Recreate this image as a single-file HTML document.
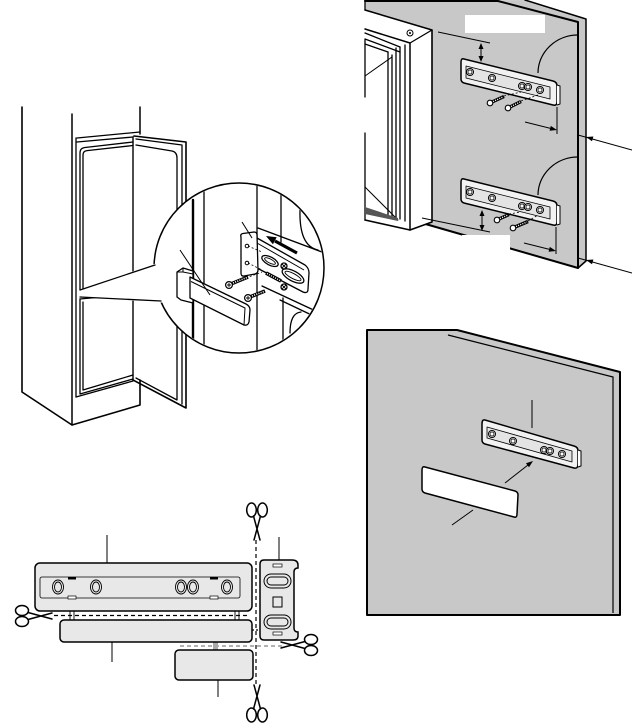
<!DOCTYPE html>
<html><head><meta charset="utf-8"><style>
html,body{margin:0;padding:0;background:#fff;}
svg{display:block;}
</style></head><body>
<svg width="632" height="723" viewBox="0 0 632 723" xmlns="http://www.w3.org/2000/svg">
<defs>
  <clipPath id="circ"><circle cx="239" cy="268" r="84"/></clipPath>
</defs>
<rect width="632" height="723" fill="#fff"/>

<!-- ================= TOP-LEFT: FRIDGE ================= -->
<g fill="none" stroke="#000" stroke-width="1.3" stroke-linejoin="round" stroke-linecap="round">
  <path d="M22,107 V392 L72,425 L140,405 V380" stroke-width="1.6"/>
  <path d="M72,114 V425" stroke-width="1.5"/>
  <path d="M140,107 V134" stroke-width="1.5"/>
  <path d="M77,138 L140,132"/>
  <path d="M77,142 L133,137"/>
  <path d="M76,138 V397"/>
  <path d="M80,292 V153 Q80,148 85,147.5 L133,142"/>
  <path d="M83,290 V155 Q83,151 87,150.6 L133,145.5"/>
  <path d="M80,299 L133,294"/>
  <path d="M80,299 V394 L133,379"/>
  <path d="M83,302 V390 L133,375"/>
  <path d="M76,397 L133,381"/>
  <path d="M133,137 V380" stroke-width="1.4"/>
  <path d="M134,136 L186,142 V408 L133,380" stroke-width="1.6"/>
  <path d="M136,139 L182,145 V404"/>
  <path d="M136,145 L172,151 Q177,152 177,158 V400 L136,378"/>
</g>

<!-- circle callout -->
<circle cx="239" cy="268" r="85" fill="#fff" stroke="#000" stroke-width="1.5"/>
<polygon points="79,290 160,262 168,303 79,297" fill="#fff"/>
<g fill="none" stroke="#000" stroke-width="1.3" stroke-linecap="round">
  <path d="M80,290 L155,265"/>
  <path d="M80,297 L161,301"/>
</g>

<g clip-path="url(#circ)">
<g fill="none" stroke="#000" stroke-width="1.3" stroke-linecap="round" stroke-linejoin="round">
  <path d="M193,200 V340" stroke-width="2.4"/>
  <path d="M204,190 V345"/>
  <path d="M257,180 V350"/>
  <path d="M281,195 V242"/>
  <path d="M283,298 V340"/>
  <path d="M300,210 Q299,246 318,250"/>
  <path d="M290,333 Q290,313 301,312"/>
  <path d="M258,228 L330,255"/>
  <path d="M262,286 L320,313"/>
  <path d="M280,300 L320,319"/>
</g>

<g stroke="#000" stroke-width="1.3" stroke-linejoin="round">
  <path d="M257,238 L305,265 Q309,268 309,273 L308,289 Q308,294 303,292 L257,268 Z" fill="#fff"/>
  <path d="M257,243 L304,270" fill="none" stroke-width="1"/>
  <ellipse cx="270" cy="261" rx="9" ry="4" transform="rotate(28 270 261)" fill="#fff"/>
  <ellipse cx="270" cy="261" rx="6" ry="2" transform="rotate(28 270 261)" fill="none" stroke-width="0.9"/>
  <ellipse cx="293" cy="276" rx="12" ry="5" transform="rotate(28 293 276)" fill="#fff"/>
  <ellipse cx="293" cy="276" rx="9" ry="2.5" transform="rotate(28 293 276)" fill="none" stroke-width="0.9"/>
  <path d="M241,237 Q240,234 243,233.5 L254,232 Q257,232 257,235 L258,270 Q258,273 255,274 L244,276 Q241,276.5 241,273 Z" fill="#fff"/>
  <circle cx="247" cy="246" r="1.8" fill="#fff" stroke-width="1"/>
  <circle cx="247" cy="263" r="1.8" fill="#fff" stroke-width="1"/>
  <circle cx="284" cy="266" r="3" fill="#fff"/>
  <path d="M282,264 L286,268 M286,264 L282,268" stroke-width="0.9"/>
  <circle cx="284" cy="287" r="3" fill="#fff"/>
  <path d="M282,285 L286,289 M286,285 L282,289" stroke-width="0.9"/>
</g>
<g fill="none" stroke="#000" stroke-width="0.8" stroke-dasharray="2,2">
  <path d="M248,246 L262,252"/>
  <path d="M248,263 L262,270"/>
  <path d="M246,278 L262,272"/>
</g>
<g stroke-linecap="butt">
  <path d="M232,283.5 L248,277" stroke="#000" stroke-width="3.6"/>
  <path d="M233,283 L247,277.5" stroke="#fff" stroke-width="1.6" stroke-dasharray="1,1.3"/>
  <path d="M251,296.5 L265,291" stroke="#000" stroke-width="3.6"/>
  <path d="M252,296 L264,291.5" stroke="#fff" stroke-width="1.6" stroke-dasharray="1,1.3"/>
  <path d="M266,273 L281,281" stroke="#000" stroke-width="3.6"/>
  <path d="M267,273.5 L280,280.5" stroke="#fff" stroke-width="1.4" stroke-dasharray="1,1.3"/>
  <circle cx="229" cy="285" r="3.4" fill="#fff" stroke="#000" stroke-width="1.2"/>
  <path d="M227,285 H231 M229,283 V287" stroke="#000" stroke-width="0.9"/>
  <circle cx="248" cy="298" r="3.4" fill="#fff" stroke="#000" stroke-width="1.2"/>
  <path d="M246,298 H250 M248,296 V300" stroke="#000" stroke-width="0.9"/>
</g>
<path d="M297,253 L275,241" stroke="#000" stroke-width="3.2"/>
<polygon points="266,236 276.7,237.3 272.9,244.3" fill="#000"/>
<g stroke="#000" stroke-width="1.3" stroke-linejoin="round" fill="#fff">
  <path d="M177,272 L183,268 L193,271 L193,303 L181,300 L177,297 Z"/>
  <path d="M183,268 L183,272 L177,272 M183,272 L193,274" fill="none" stroke-width="1"/>
  <path d="M190,277 L246,304 Q250,306 250,310 L249,322 Q248,326 244,325 L190,298 Z"/>
  <path d="M191,281.5 L245,308 L244,325" fill="none" stroke-width="1"/>
</g>
<g stroke="#000" stroke-width="1" fill="none">
  <path d="M180,250 L210,295"/>
  <path d="M242,222 L252,238"/>
</g>
</g>

<!-- ================= TOP-RIGHT: PANEL WITH BRACKETS ================= -->
<polygon points="365,1 525,0 586,19 586,261 578,268 422,223 432,220 432,30 365,10" fill="#c8c8c8"/>
<g fill="none" stroke="#000" stroke-linejoin="round" stroke-linecap="round">
  <path d="M365,1 H498 L578,22 V268" stroke-width="2"/>
  <path d="M525,0 L586,19 V261 L578,268" stroke-width="1.5"/>
  <path d="M422,223 L578,268" stroke-width="2"/>
  <path d="M365,0 V10" stroke-width="1.3"/>
</g>
<polygon points="355,8 365,10 432,30 432,222 410,230 365,220 355,220" fill="#fff"/>
<g fill="none" stroke="#000" stroke-width="1.3" stroke-linejoin="round" stroke-linecap="round">
  <path d="M365,10 L432,30 V222 L410,230 L365,220" stroke-width="1.6"/>
  <path d="M365,29 L410,43 V230" stroke-width="1.5"/>
  <path d="M410,43 L432,30"/>
  <path d="M365,40 V97 M365,133 V220"/>
  <path d="M365,33 L400,47"/>
  <path d="M365,39 L400,52"/>
  <path d="M365,44 L388,52"/>
  <path d="M388,52 V216"/>
  <path d="M392,55 V217"/>
  <path d="M396,48 V218"/>
  <path d="M400,47 V219"/>
  <path d="M405,45 V221"/>
  <path d="M365,76 L392,57" stroke-width="1"/>
  <path d="M365,187 L398,220" stroke-width="1"/>
  <circle cx="410" cy="33" r="3" stroke-width="1"/>
  <circle cx="410" cy="33" r="1" fill="#000" stroke="none"/>
</g>
<polygon points="365,207 398,218 398,221 365,214" fill="#555"/>
<rect x="465" y="15" width="80" height="18" fill="#fff"/>

<g fill="none" stroke="#000" stroke-width="1.2">
  <path d="M538,73 A40,38 0 0 1 578,35"/>
  <path d="M538,195 A40,38 0 0 1 578,157"/>
</g>

<g stroke="#000" stroke-linejoin="round">
  <path d="M464,59 L553,81 Q557,82 557,86 L557,102 Q557,106 553,105 L464,83 Q461,82 461,79 L461,62 Q461,58 464,59 Z" fill="#f2f2f2" stroke-width="1.5"/>
  <path d="M557,85 L560,86 L560,104 L557,105" fill="#fff" stroke-width="1"/>
  <path d="M466,66 L550,87 L550,99 L466,78 Z" fill="#e4e4e4" stroke-width="0.8"/>
  <g fill="#fff" stroke-width="1">
    <circle cx="470" cy="72" r="3.5"/><circle cx="492" cy="78" r="3.5"/>
    <circle cx="522" cy="86" r="3.5"/><circle cx="528" cy="87" r="3.5"/><circle cx="540" cy="90" r="3.5"/>
  </g>
  <g fill="none" stroke-width="0.8">
    <circle cx="470" cy="72" r="2"/><circle cx="492" cy="78" r="2"/>
    <circle cx="522" cy="86" r="2"/><circle cx="528" cy="87" r="2"/><circle cx="540" cy="90" r="2"/>
  </g>
</g>
<g stroke="#000" stroke-linejoin="round" transform="translate(0,120)">
  <path d="M464,59 L553,81 Q557,82 557,86 L557,102 Q557,106 553,105 L464,83 Q461,82 461,79 L461,62 Q461,58 464,59 Z" fill="#f2f2f2" stroke-width="1.5"/>
  <path d="M557,85 L560,86 L560,104 L557,105" fill="#fff" stroke-width="1"/>
  <path d="M466,66 L550,87 L550,99 L466,78 Z" fill="#e4e4e4" stroke-width="0.8"/>
  <g fill="#fff" stroke-width="1">
    <circle cx="470" cy="72" r="3.5"/><circle cx="492" cy="78" r="3.5"/>
    <circle cx="522" cy="86" r="3.5"/><circle cx="528" cy="87" r="3.5"/><circle cx="540" cy="90" r="3.5"/>
  </g>
  <g fill="none" stroke-width="0.8">
    <circle cx="470" cy="72" r="2"/><circle cx="492" cy="78" r="2"/>
    <circle cx="522" cy="86" r="2"/><circle cx="528" cy="87" r="2"/><circle cx="540" cy="90" r="2"/>
  </g>
</g>

<!-- screws top-right -->
<g stroke-linecap="butt">
  <path d="M492,102 L504,96.5" stroke="#000" stroke-width="3.4"/>
  <path d="M493,101.5 L503,97" stroke="#fff" stroke-width="1.4" stroke-dasharray="1,1.3"/>
  <path d="M510,107 L521,101.5" stroke="#000" stroke-width="3.4"/>
  <path d="M511,106.5 L520,102" stroke="#fff" stroke-width="1.4" stroke-dasharray="1,1.3"/>
  <path d="M499,219 L509,214.5" stroke="#000" stroke-width="3.4"/>
  <path d="M500,218.5 L508,215" stroke="#fff" stroke-width="1.4" stroke-dasharray="1,1.3"/>
  <path d="M515,227 L528,221.5" stroke="#000" stroke-width="3.4"/>
  <path d="M516,226.5 L527,222" stroke="#fff" stroke-width="1.4" stroke-dasharray="1,1.3"/>
  <g fill="#fff" stroke="#000" stroke-width="1.1">
    <circle cx="490" cy="103" r="2.8"/><circle cx="508" cy="108" r="2.8"/>
    <circle cx="497" cy="220" r="2.8"/><circle cx="513" cy="228" r="2.8"/>
  </g>
</g>
<g fill="none" stroke="#000" stroke-width="0.8" stroke-dasharray="2,2">
  <path d="M504,96 L521,92"/><path d="M521,101 L538,95"/>
  <path d="M509,214 L521,212"/><path d="M528,221 L538,215"/>
</g>

<g fill="none" stroke="#000" stroke-width="1">
  <path d="M438,32 L490,43"/>
  <path d="M481,47 V58"/>
  <path d="M557,107 V134"/>
  <path d="M525,122 L551,128.5"/>
  <path d="M578,135 L632,150"/>
  <path d="M422,218 L490,232"/>
  <path d="M482,214 V227"/>
  <path d="M556,227 V254"/>
  <path d="M524,243 L550,249.5"/>
  <path d="M578,258 L632,273"/>
</g>
<g fill="#000">
  <polygon points="481,43 478.5,49 483.5,49"/>
  <polygon points="481,62 478.5,56 483.5,56"/>
  <polygon points="482,210 479.5,216 484.5,216"/>
  <polygon points="482,231 479.5,225 484.5,225"/>
  <polygon points="557,130 549.6,130.7 550.8,125.9"/>
  <polygon points="586,137 592,141.3 593.4,136.5"/>
  <polygon points="556,251 548.6,251.7 549.8,246.9"/>
  <polygon points="586,260 592,264.3 593.4,259.5"/>
</g>
<rect x="462" y="235" width="48" height="45" fill="#fff"/>

<!-- ================= MIDDLE-RIGHT PANEL ================= -->
<polygon points="367,330 457,330 620,372 620,615 367,615" fill="#c8c8c8" stroke="#000" stroke-width="2" stroke-linejoin="round"/>
<path d="M448,335 L613,377 V613" fill="none" stroke="#000" stroke-width="1.2"/>
<g stroke="#000" stroke-linejoin="round">
  <path d="M485,420 L574,446 Q578,447 578,451 L578,464 Q578,469 574,468 L485,444 Q482,443 482,440 L482,424 Q482,419 485,420 Z" fill="#f2f2f2" stroke-width="1.5"/>
  <path d="M578,450 L581,451 L581,466 L578,467" fill="#fff" stroke-width="1"/>
  <path d="M487,427 L572,451 L572,462 L487,438 Z" fill="#e4e4e4" stroke-width="0.8"/>
  <g fill="#fff" stroke-width="1">
    <circle cx="492" cy="434" r="3.5"/><circle cx="513" cy="441" r="3.5"/>
    <circle cx="544" cy="450" r="3.5"/><circle cx="550" cy="451" r="3.5"/><circle cx="562" cy="454" r="3.5"/>
  </g>
  <g fill="none" stroke-width="0.8">
    <circle cx="492" cy="434" r="2"/><circle cx="513" cy="441" r="2"/>
    <circle cx="544" cy="450" r="2"/><circle cx="550" cy="451" r="2"/><circle cx="562" cy="454" r="2"/>
  </g>
</g>
<path d="M425,467 L515,491 Q518,492 518,495 L517,514 Q517,518 514,517 L425,493 Q422,492 422,489 L422,470 Q422,466 425,467 Z" fill="#fff" stroke="#000" stroke-width="1.5"/>
<g fill="none" stroke="#000" stroke-width="1">
  <path d="M532,400 V428"/>
  <path d="M452,525 L473,510"/>
  <path d="M505,483 L528,465"/>
</g>
<polygon points="533,461 529,467.3 526,463.3" fill="#000"/>

<!-- ================= BOTTOM-LEFT: CUTTING ================= -->
<g fill="none" stroke-width="1.2">
  <path d="M256,540 V684" stroke="#000" stroke-dasharray="4,3"/>
  <path d="M54,615.5 H249" stroke="#000" stroke-dasharray="4,3"/>
  <path d="M180,646 H283" stroke="#999" stroke-width="1.6" stroke-dasharray="4,3"/>
  <path d="M252,630 H262" stroke="#000" stroke-dasharray="2,2"/>
</g>
<g stroke="#000" stroke-width="0.9" fill="none">
  <path d="M70,611 V620 M74,611 V620"/>
  <path d="M235,611 V620 M239,611 V620"/>
</g>
<rect x="213" y="642" width="5" height="8" fill="#aaa"/>
<rect x="35" y="563" width="217" height="48" rx="5" fill="#e8e8e8" stroke="#000" stroke-width="1.5"/>
<rect x="40" y="577" width="200" height="21" rx="2" fill="#e8e8e8" stroke="#000" stroke-width="0.8"/>
<g fill="none" stroke="#000" stroke-width="0.9">
  <ellipse cx="58" cy="587" rx="5.5" ry="7"/><ellipse cx="58" cy="587" rx="3.5" ry="5"/>
  <ellipse cx="96" cy="587" rx="5.5" ry="7"/><ellipse cx="96" cy="587" rx="3.5" ry="5"/>
  <ellipse cx="181" cy="587" rx="5.5" ry="7"/><ellipse cx="181" cy="587" rx="3.5" ry="5"/>
  <ellipse cx="193" cy="587" rx="5.5" ry="7"/><ellipse cx="193" cy="587" rx="3.5" ry="5"/>
  <ellipse cx="227" cy="587" rx="5.5" ry="7"/><ellipse cx="227" cy="587" rx="3.5" ry="5"/>
</g>
<rect x="68" y="577" width="8" height="2.5" fill="#000"/>
<rect x="210" y="577" width="8" height="2.5" fill="#000"/>
<rect x="68" y="596" width="8" height="3" fill="#fff" stroke="#000" stroke-width="0.7"/>
<rect x="210" y="596" width="8" height="3" fill="#fff" stroke="#000" stroke-width="0.7"/>
<rect x="60" y="620" width="192" height="22" rx="4" fill="#e8e8e8" stroke="#000" stroke-width="1.5"/>
<rect x="175" y="650" width="78" height="30" rx="4" fill="#e8e8e8" stroke="#000" stroke-width="1.5"/>
<path d="M264,560 H292 Q298,560 298,565 L298,568 Q294,568 294,572 V628 Q294,632 298,632 L298,636 Q298,640 293,640 H264 Q260,640 260,636 V564 Q260,560 264,560 Z" fill="#e8e8e8" stroke="#000" stroke-width="1.5"/>
<g fill="none" stroke="#000" stroke-width="1">
  <rect x="264" y="574" width="27" height="14" rx="7"/>
  <rect x="267" y="577" width="21" height="8" rx="4"/>
  <rect x="264" y="615" width="27" height="14" rx="7"/>
  <rect x="267" y="618" width="21" height="8" rx="4"/>
  <rect x="273" y="597" width="9" height="10"/>
  <rect x="273" y="564" width="9" height="3" fill="#fff" stroke-width="0.7"/>
  <rect x="273" y="632" width="9" height="3" fill="#fff" stroke-width="0.7"/>
</g>
<g stroke="#000" stroke-width="1" fill="none">
  <path d="M107,535 V563"/>
  <path d="M279,537 V560"/>
  <path d="M112,642 V662"/>
  <path d="M218,680 V697"/>
</g>
<g fill="none" stroke="#000" stroke-width="1.5" stroke-linecap="round">
  <g transform="translate(34,616)">
    <ellipse cx="-12" cy="-5.5" rx="6.5" ry="5"/><ellipse cx="-12" cy="5.5" rx="6.5" ry="5"/>
    <path d="M-6,-3.5 L18,3 M-6,3.5 L18,-3"/>
  </g>
  <g transform="translate(257,522) rotate(90)">
    <ellipse cx="-12" cy="-5.5" rx="7" ry="4.8"/><ellipse cx="-12" cy="5.5" rx="7" ry="4.8"/>
    <path d="M-6,-3.5 L18,3 M-6,3.5 L18,-3"/>
  </g>
  <g transform="translate(257,703) rotate(-90)">
    <ellipse cx="-12" cy="-5.5" rx="7" ry="4.8"/><ellipse cx="-12" cy="5.5" rx="7" ry="4.8"/>
    <path d="M-6,-3.5 L18,3 M-6,3.5 L18,-3"/>
  </g>
  <g transform="translate(299,645) rotate(180)">
    <ellipse cx="-12" cy="-5.5" rx="6.5" ry="5"/><ellipse cx="-12" cy="5.5" rx="6.5" ry="5"/>
    <path d="M-6,-3.5 L18,3 M-6,3.5 L18,-3"/>
  </g>
</g>
</svg>
</body></html>
